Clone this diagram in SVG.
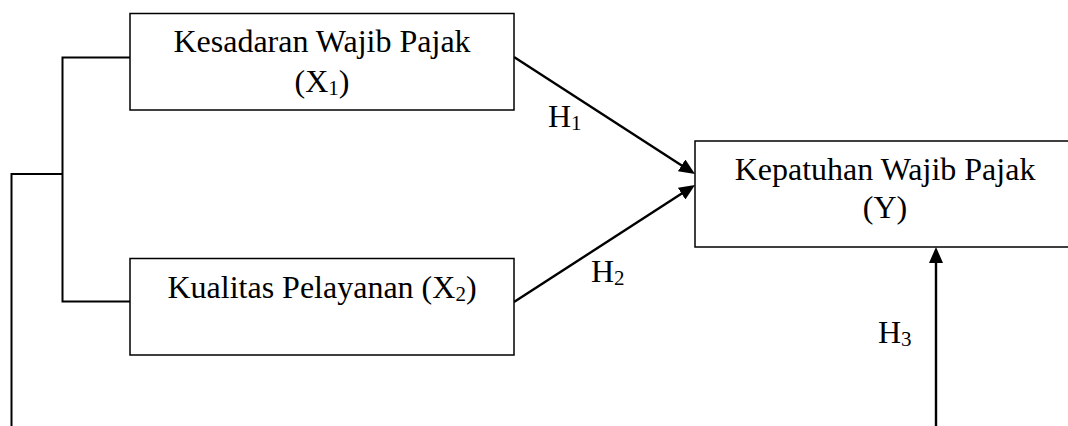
<svg xmlns="http://www.w3.org/2000/svg" width="1068" height="426" viewBox="0 0 1068 426">
  <style>
    .box { fill: #ffffff; stroke: #000000; stroke-width: 1.5; }
    .lbl { font-family: "Liberation Serif", "Times New Roman", serif; font-size: 32px; fill: #000000; }
    .sub { font-size: 21px; }
    .wire { fill: none; stroke: #000000; stroke-width: 2; }
    .arrow { fill: none; stroke: #000000; stroke-width: 2.4; }
  </style>
  <defs>
    <marker id="head" markerUnits="userSpaceOnUse" viewBox="0 0 16 14" markerWidth="16" markerHeight="14" refX="8" refY="7" orient="auto">
      <path d="M0,0 L16,7 L0,14 z" fill="#000000"/>
    </marker>
  </defs>

  <rect width="1068" height="426" fill="#ffffff"/>

  <!-- connectors -->
  <g id="connectors">
    <!-- bracket joining the two independent variables -->
    <polyline class="wire" points="130,57.5 62.5,57.5 62.5,301.5 130,301.5"/>
    <polyline class="wire" points="62.5,174 11.5,174 11.5,426"/>
    <!-- hypothesis paths -->
    <line class="arrow" x1="514" y1="57" x2="688.3" y2="169.7" marker-end="url(#head)"/>
    <line class="arrow" x1="514" y1="302" x2="688.3" y2="189.3" marker-end="url(#head)"/>
    <line class="arrow" x1="936" y1="426" x2="936" y2="255" marker-end="url(#head)"/>
    <text class="lbl" x="548" y="127">H<tspan class="sub" dy="3">1</tspan></text>
    <text class="lbl" x="591" y="282">H<tspan class="sub" dy="3">2</tspan></text>
    <text class="lbl" x="878" y="343">H<tspan class="sub" dy="3">3</tspan></text>
  </g>

  <g id="x1">
    <rect class="box" x="130" y="13.5" width="384" height="96.5"/>
    <text class="lbl" x="322" y="52" text-anchor="middle">Kesadaran Wajib Pajak</text>
    <text class="lbl" x="322" y="92" text-anchor="middle">(X<tspan class="sub" dy="3">1</tspan><tspan dy="-3">)</tspan></text>
  </g>

  <g id="x2">
    <rect class="box" x="130" y="258.5" width="384" height="96.5"/>
    <text class="lbl" x="322" y="298" text-anchor="middle">Kualitas Pelayanan (X<tspan class="sub" dy="3">2</tspan><tspan dy="-3">)</tspan></text>
  </g>

  <g id="y">
    <rect class="box" x="695" y="141" width="380" height="106"/>
    <text class="lbl" x="885" y="180" text-anchor="middle">Kepatuhan Wajib Pajak</text>
    <text class="lbl" x="885" y="218" text-anchor="middle">(Y)</text>
  </g>
</svg>
